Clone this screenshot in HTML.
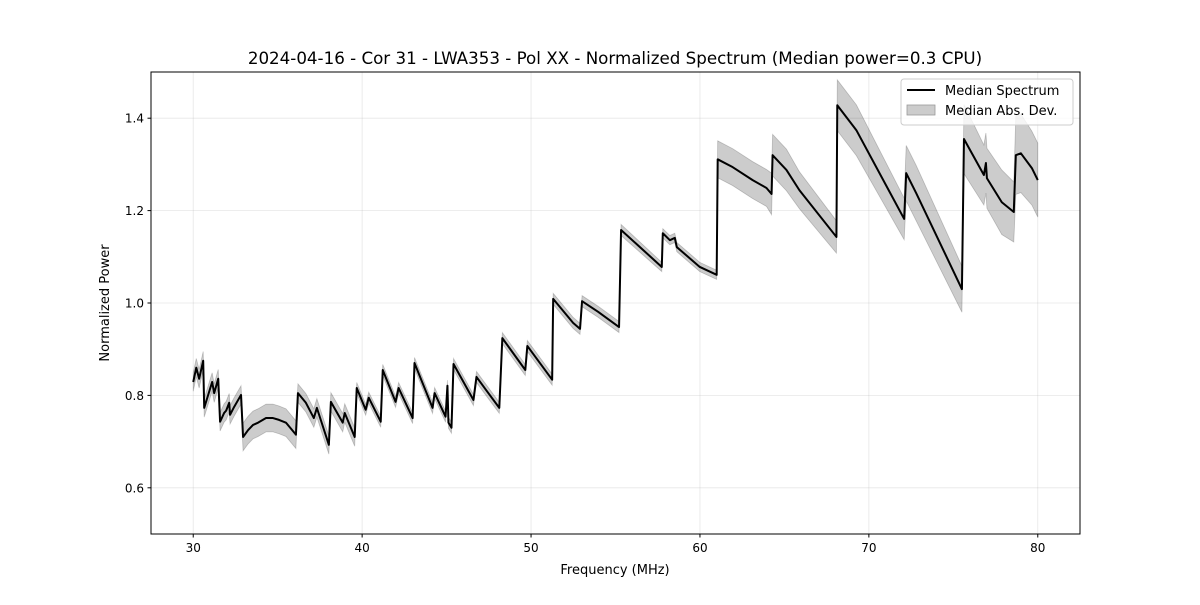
<!DOCTYPE html>
<html><head><meta charset="utf-8"><style>
body{margin:0;background:#fff;font-family:"Liberation Sans","DejaVu Sans",sans-serif}
</style></head><body>
<svg id="chart" width="1200" height="600" xmlns="http://www.w3.org/2000/svg" font-family="DejaVu Sans, Liberation Sans, sans-serif">
<rect width="1200" height="600" fill="#fff"/>
<text x="615" y="64" text-anchor="middle" font-size="16.7">2024-04-16 - Cor 31 - LWA353 - Pol XX - Normalized Spectrum (Median power=0.3 CPU)</text>
<g id="grid"></g>
<g id="band"></g>
<g id="line"></g>
<rect x="151" y="72" width="929" height="462" fill="none" stroke="#000" stroke-width="1"/>
<g id="ticks"></g>
<text x="615" y="574" text-anchor="middle" font-size="13">Frequency (MHz)</text>
<text x="109" y="303" text-anchor="middle" font-size="13" transform="rotate(-90 109 303)">Normalized Power</text>
<g>
<rect x="901" y="79" width="172" height="46" rx="3" fill="#fff" fill-opacity="0.8" stroke="#ccc"/>
<line x1="907" y1="90" x2="935" y2="90" stroke="#000" stroke-width="2"/>
<text x="945" y="95" font-size="13">Median Spectrum</text>
<rect x="907" y="105" width="28" height="10" fill="#000" fill-opacity="0.2" stroke="#999" stroke-width="0.8"/>
<text x="945" y="115" font-size="13">Median Abs. Dev.</text>
</g>
</svg>
<script>
const freqs=[30.0,30.18,30.35,30.59,30.65,31.12,31.24,31.48,31.59,31.83,31.95,32.13,32.18,32.42,32.83,32.95,33.25,33.54,33.84,34.31,34.72,35.08,35.49,36.08,36.2,36.67,37.14,37.32,38.03,38.15,38.85,38.97,39.56,39.68,40.21,40.39,41.1,41.22,41.98,42.16,42.99,43.1,44.17,44.29,44.94,45.05,45.11,45.29,45.41,46.59,46.77,47.41,48.12,48.3,49.66,49.78,51.25,51.31,52.49,52.9,53.02,53.97,55.21,55.33,57.74,57.8,58.22,58.51,58.63,59.99,60.99,61.05,61.94,63.12,63.94,64.24,64.3,65.12,65.89,68.08,68.13,69.26,72.09,72.21,72.8,75.51,75.63,76.22,76.81,76.93,76.99,77.87,78.58,78.7,79.0,79.65,80.0];
const median=[0.829,0.86,0.836,0.875,0.773,0.829,0.805,0.836,0.743,0.762,0.767,0.784,0.758,0.775,0.801,0.71,0.725,0.736,0.741,0.751,0.751,0.747,0.741,0.715,0.805,0.784,0.751,0.773,0.693,0.786,0.741,0.762,0.71,0.816,0.769,0.795,0.743,0.855,0.786,0.816,0.751,0.87,0.773,0.805,0.754,0.821,0.741,0.73,0.868,0.79,0.84,0.808,0.773,0.924,0.855,0.907,0.834,1.009,0.957,0.944,1.004,0.981,0.948,1.158,1.078,1.151,1.136,1.141,1.121,1.078,1.061,1.311,1.294,1.266,1.249,1.236,1.32,1.288,1.244,1.143,1.428,1.374,1.182,1.281,1.238,1.03,1.355,1.316,1.277,1.303,1.27,1.218,1.197,1.32,1.324,1.292,1.266];
const mad=[0.02,0.02,0.02,0.02,0.02,0.02,0.02,0.02,0.02,0.02,0.02,0.02,0.02,0.02,0.02,0.03,0.03,0.03,0.03,0.03,0.03,0.03,0.03,0.03,0.02,0.02,0.02,0.02,0.02,0.02,0.02,0.02,0.02,0.012,0.012,0.012,0.012,0.012,0.012,0.012,0.012,0.012,0.012,0.012,0.012,0.012,0.012,0.012,0.012,0.012,0.012,0.012,0.012,0.012,0.012,0.012,0.012,0.012,0.012,0.012,0.012,0.012,0.012,0.012,0.01,0.01,0.01,0.01,0.01,0.01,0.01,0.04,0.04,0.04,0.04,0.045,0.045,0.045,0.04,0.035,0.055,0.055,0.045,0.06,0.06,0.05,0.075,0.07,0.065,0.065,0.065,0.07,0.065,0.085,0.085,0.08,0.08];
const xTicks=[30,40,50,60,70,80];
const yTicks=[0.6,0.8,1.0,1.2,1.4];
const yTickLabels=["0.6","0.8","1.0","1.2","1.4"];
const X0=151,X1=1080,Y0=534,Y1=72,XMIN=27.5,XMAX=82.5,YMIN=0.5,YMAX=1.5;
function sx(f){return X0+(f-XMIN)/(XMAX-XMIN)*(X1-X0);}
function sy(v){return Y0-(v-YMIN)/(YMAX-YMIN)*(Y0-Y1);}
const NS="http://www.w3.org/2000/svg";
function mk(tag,attrs,parent){const e=document.createElementNS(NS,tag);for(const k in attrs)e.setAttribute(k,attrs[k]);parent.appendChild(e);return e;}
const gridG=document.getElementById('grid'),ticksG=document.getElementById('ticks');
xTicks.forEach(t=>{const x=sx(t);
 const g=mk('line',{x1:x,x2:x,y1:Y1,y2:Y0,stroke:'#b0b0b0','stroke-opacity':0.3,'stroke-width':0.8},gridG);
 
 
 mk('line',{x1:x,x2:x,y1:Y0,y2:Y0+3.5,stroke:'#000'},ticksG);
 const l=mk('text',{x:x,y:Y0+18,'text-anchor':'middle','font-size':12},ticksG);l.textContent=t;
 
 
});
yTicks.forEach((t,i)=>{const y=sy(t);
 const g=mk('line',{x1:X0,x2:X1,y1:y,y2:y,stroke:'#b0b0b0','stroke-opacity':0.3,'stroke-width':0.8},gridG);
 
 
 mk('line',{x1:X0-3.5,x2:X0,y1:y,y2:y,stroke:'#000'},ticksG);
 const l=mk('text',{x:X0-7,y:y+4.5,'text-anchor':'end','font-size':12},ticksG);l.textContent=yTickLabels[i];
 
 
});
const upperPts=[],lowerPts=[],linePts=[];
freqs.forEach((f,i)=>{upperPts.push(sx(f)+','+sy(median[i]+mad[i]));lowerPts.unshift(sx(f)+','+sy(median[i]-mad[i]));linePts.push(sx(f)+','+sy(median[i]));});
const band=mk('polygon',{points:upperPts.concat(lowerPts).join(' '),fill:'#000','fill-opacity':0.2,stroke:'#000','stroke-opacity':0.2,'stroke-width':0.8},document.getElementById('band'));


const line=mk('polyline',{points:linePts.join(' '),fill:'none',stroke:'#000','stroke-width':2,'stroke-linejoin':'round'},document.getElementById('line'));


</script>
</body></html>
